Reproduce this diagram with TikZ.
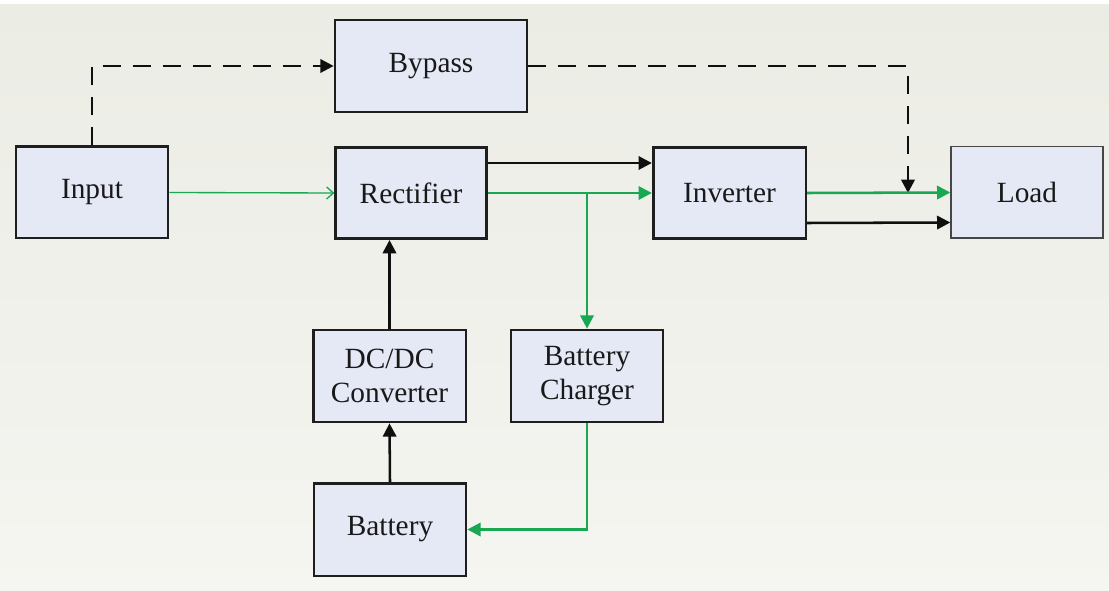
\documentclass[tikz,border=0pt]{standalone}
\usepackage{fontspec}
\setmainfont{Liberation Serif}
\usetikzlibrary{arrows.meta}

\tikzset{every picture/.style={line width=0.75pt}}
\tikzset{
  upsbox/.style={draw={rgb, 255:red, 30; green, 30; blue, 30 }, fill={rgb, 255:red, 228; green, 233; blue, 245 }, line width=2pt, inner sep=0pt, anchor=center, align=center, text={rgb, 255:red, 25; green, 25; blue, 25 }, font=\fontsize{22}{26}\selectfont},
  blackflow/.style={draw={rgb, 255:red, 15; green, 15; blue, 15 }, line width=1.9pt, -{Triangle[length=10pt, width=10pt]}},
  greenflow/.style={draw={rgb, 255:red, 24; green, 168; blue, 82 }, line width=1.9pt, -{Triangle[length=10pt, width=10pt]}},
  bypassflow/.style={draw={rgb, 255:red, 15; green, 15; blue, 15 }, line width=1.9pt, dash pattern={on 13.5pt off 9pt}, -{Triangle[length=10pt, width=10pt]}}
}

\begin{document}
\begin{tikzpicture}[x=0.75pt,y=0.75pt,yscale=-1,xscale=1]

\useasboundingbox (0,0) rectangle (1109,591);
\shade [top color={rgb, 255:red, 235; green, 236; blue, 228 }, bottom color={rgb, 255:red, 245; green, 245; blue, 241 }] (0,5) rectangle (1109,591);

%% ---------------- blocks ----------------
\node [upsbox, minimum width=114pt, minimum height=68.5pt] (input) at (92,192.5) {Input};
\node [upsbox, minimum width=144pt, minimum height=69pt] (bypass) at (431,66) {Bypass};
\node [upsbox, minimum width=113pt, minimum height=68.5pt] (rect) at (411,193) {Rectifier};
\node [upsbox, minimum width=114.5pt, minimum height=68.5pt] (inv) at (729.5,193) {Inverter};
\node [upsbox, minimum width=114pt, minimum height=68.5pt, line width=1pt, draw={rgb, 255:red, 70; green, 70; blue, 70 }] (load) at (1027,192.5) {Load};
\node [upsbox, minimum width=114.5pt, minimum height=69pt] (dcdc) at (389.5,376) {DC/DC\\Converter};
\node [upsbox, minimum width=114pt, minimum height=69pt] (charger) at (587,376) {Battery\\Charger};
\node [upsbox, minimum width=114pt, minimum height=69.5pt] (batt) at (390,529.5) {Battery};

%% ---------------- junctions ----------------
\coordinate (branch) at (charger.north |- rect.east);
\coordinate (merge) at (908,193);

%% ---------------- bypass path (dashed) ----------------
\draw [bypassflow] (input.north) |- (bypass.west);
\draw [bypassflow] (bypass.east) -| (merge);

%% ---------------- main power path ----------------
\draw [draw={rgb, 255:red, 24; green, 168; blue, 82 }, line width=1pt, -{Straight Barb[length=5pt, width=9pt]}] (input.east) -- (rect.west);
\draw [greenflow] (rect.east) -- (inv.west);
\draw [greenflow] (inv.east) -- (load.west);
\draw [blackflow] ([yshift=-22.5pt]rect.east) -- ([yshift=-22.5pt]inv.west);
\draw [blackflow] ([yshift=22.5pt]inv.east) -- ([yshift=22.5pt]load.west);

%% ---------------- battery loop ----------------
\draw [greenflow] (branch) -- (charger.north);
\draw [greenflow] (charger.south) |- (batt.east);
\draw [blackflow] (batt.north) -- (dcdc.south);
\draw [blackflow] (dcdc.north) -- (dcdc.north |- rect.south);

\end{tikzpicture}
\end{document}
